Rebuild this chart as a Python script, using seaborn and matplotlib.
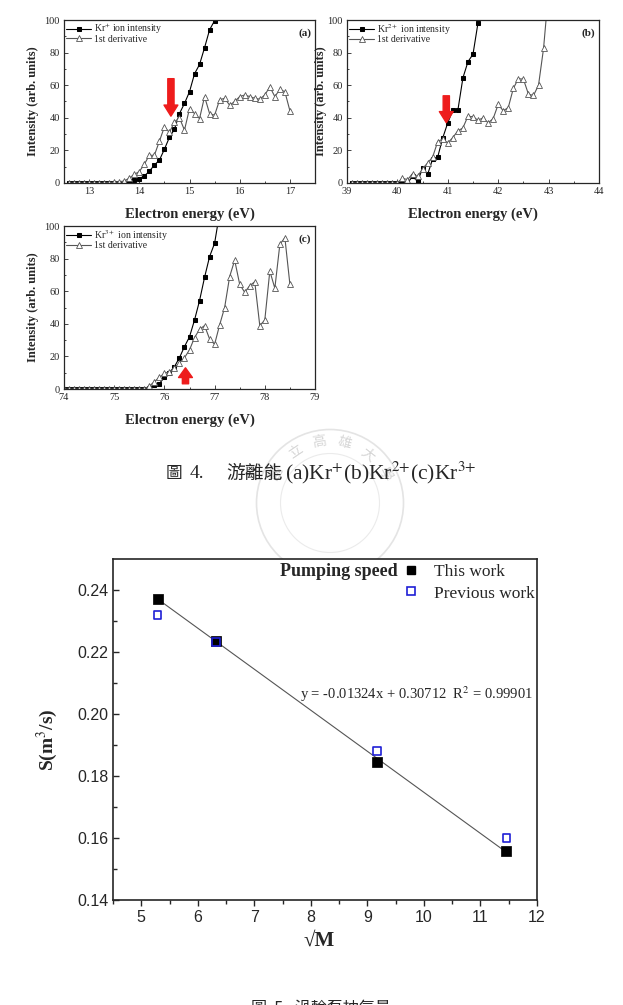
# ================================
# Kr ionization energy + pumping speed figure page
# ================================

import numpy as np
import matplotlib
matplotlib.use("Agg")
import matplotlib.pyplot as plt
from matplotlib.lines import Line2D
from matplotlib.patches import Circle
import seaborn as sns

# --------------------------------
# Data: (a) Kr+ ionization
# --------------------------------
a_ion_x = [12.6, 12.7, 12.8, 12.9, 13.0, 13.1, 13.2, 13.3, 13.4, 13.5, 13.6, 13.7,
           13.8, 13.9, 14.0, 14.1, 14.2, 14.3, 14.4, 14.5, 14.6, 14.7, 14.8, 14.9,
           15.0, 15.1, 15.2, 15.3, 15.4, 15.5, 15.6]
a_ion_y = [0, 0, 0, 0, 0, 0, 0, 0, 0, 0, 0, 0,
           1.0, 1.6, 2.7, 4.3, 7.2, 11, 14, 20.7, 28, 33, 42.6, 48.8,
           56, 67, 72.7, 83, 94, 99.6, 106]
a_der_x = [12.6, 12.7, 12.8, 12.9, 13.0, 13.1, 13.2, 13.3, 13.4, 13.5, 13.6, 13.7,
           13.8, 13.9, 14.0, 14.1, 14.2, 14.3, 14.4, 14.5, 14.6, 14.7, 14.8, 14.9,
           15.0, 15.1, 15.2, 15.3, 15.4, 15.5, 15.6, 15.7, 15.8, 15.9, 16.0, 16.1,
           16.2, 16.3, 16.4, 16.5, 16.6, 16.7, 16.8, 16.9, 17.0]
a_der_y = [0, 0, 0, 0, 0, 0, 0, 0, 0.3, 0.5, 0.8, 1.2,
           3, 5.3, 7, 11.5, 17, 17, 25.6, 34.4, 31, 37.5, 40, 32.4,
           45.7, 42.6, 39.5, 53, 42.6, 41.6, 51, 52, 47.7, 50, 53, 54,
           53, 52, 51.4, 54, 59, 53, 57.4, 56, 44.3]

# --------------------------------
# Data: (b) Kr2+ ionization
# --------------------------------
b_ion_x = [39.1, 39.2, 39.3, 39.4, 39.5, 39.6, 39.7, 39.8, 39.9, 40.0,
           40.1, 40.2, 40.3, 40.4, 40.5, 40.6, 40.7, 40.8, 40.9, 41.0,
           41.1, 41.2, 41.3, 41.4, 41.5, 41.6, 41.7]
b_ion_y = [0, 0, 0, 0, 0, 0, 0, 0, 0, 0,
           0, 0, 4, 1, 9, 5.3, 14.8, 16, 27.7, 37,
           44.7, 44.7, 64.5, 74.4, 79, 98.4, 115]
b_der_x = [39.1, 39.2, 39.3, 39.4, 39.5, 39.6, 39.7, 39.8, 39.9, 40.0,
           40.1, 40.2, 40.3, 40.4, 40.5, 40.6, 40.7, 40.8, 40.9, 41.0,
           41.1, 41.2, 41.3, 41.4, 41.5, 41.6, 41.7, 41.8, 41.9, 42.0,
           42.1, 42.2, 42.3, 42.4, 42.5, 42.6, 42.7, 42.8, 42.9, 43.0]
b_der_y = [0, 0, 0, 0, 0, 0, 0, 0, 0, 0,
           3, 2, 5.7, 4, 8.8, 12.3, 16, 25.4, 27, 24.6,
           27.9, 32, 33.8, 41, 40.6, 38.5, 40, 36.9, 39.5, 48.2,
           44.3, 46.3, 58, 64, 63.7, 54.5, 53.7, 60, 82.6, 118]

# --------------------------------
# Data: (c) Kr3+ ionization
# --------------------------------
c_ion_x = [74.0, 74.1, 74.2, 74.3, 74.4, 74.5, 74.6, 74.7, 74.8, 74.9,
           75.0, 75.1, 75.2, 75.3, 75.4, 75.5, 75.6, 75.7, 75.8, 75.9,
           76.0, 76.1, 76.2, 76.3, 76.4, 76.5, 76.6, 76.7, 76.8, 76.9,
           77.0, 77.1]
c_ion_y = [0, 0, 0, 0, 0, 0, 0, 0, 0, 0,
           0, 0, 0, 0, 0, 0, 0, 0.4, 2.2, 3.3,
           7.2, 10, 13.7, 19.2, 26, 32, 42.3, 54.2, 68.5, 81.2,
           89.4, 108]
c_der_x = [74.0, 74.1, 74.2, 74.3, 74.4, 74.5, 74.6, 74.7, 74.8, 74.9,
           75.0, 75.1, 75.2, 75.3, 75.4, 75.5, 75.6, 75.7, 75.8, 75.9,
           76.0, 76.1, 76.2, 76.3, 76.4, 76.5, 76.6, 76.7, 76.8, 76.9,
           77.0, 77.1, 77.2, 77.3, 77.4, 77.5, 77.6, 77.7, 77.8, 77.9,
           78.0, 78.1, 78.2, 78.3, 78.4, 78.5]
c_der_y = [0, 0, 0, 0, 0, 0, 0, 0, 0, 0,
           0, 0, 0, 0, 0, 0, 0, 1.8, 4.5, 7.2,
           9.6, 10.6, 13, 16, 19.2, 24, 31.5, 36.6, 38.9, 30.7,
           27.4, 39.3, 50, 69, 79, 64.2, 59.3, 63.4, 65.8, 38.9,
           42.3, 72.4, 61.8, 88.8, 92.8, 64.2]

# --------------------------------
# Data: pumping speed vs sqrt(M)
# --------------------------------
sqrt_m = [5.29, 6.32, 9.17, 11.46]
speed_this = [0.2372, 0.2237, 0.1845, 0.1558]
speed_prev = [0.2320, 0.2232, 0.1880, 0.1600]
fit_slope = -0.01324
fit_icept = 0.30712
fit_r2 = 0.99901

# --------------------------------
# Style
# --------------------------------
sns.set_style("ticks")
plt.rcParams["font.family"] = ["Liberation Serif", "Noto Sans CJK TC", "DejaVu Sans"]
plt.rcParams["mathtext.fontset"] = "stix"

W, H = 623, 1005
fig = plt.figure(figsize=(W / 100, H / 100), dpi=100)


def px_box(left, top, right, bottom):
    return [left / W, 1 - bottom / H, (right - left) / W, (bottom - top) / H]


RED = "#ee1c1c"
ARROW = "simple,head_length=0.8,head_width=1.0,tail_width=0.45"
CJK = ["Noto Sans CJK TC", "Liberation Serif"]


def small_panel(box, ion_x, ion_y, der_x, der_y, xlim, xticks, ion_label, tag, ylab_x):
    ax = fig.add_axes(box)
    sns.lineplot(x=ion_x, y=ion_y, ax=ax, estimator=None, sort=False,
                 color="black", lw=0.8, marker="s", markersize=3,
                 markeredgecolor="black", label=ion_label)
    sns.lineplot(x=der_x, y=der_y, ax=ax, estimator=None, sort=False,
                 color="#555555", lw=0.8, marker="^", markersize=4,
                 markerfacecolor="white", markeredgecolor="#555555",
                 markeredgewidth=0.6, label="1st derivative")
    ax.set_xlim(*xlim)
    ax.set_ylim(0, 100)
    ax.set_xticks(xticks)
    ax.set_yticks([0, 20, 40, 60, 80, 100])
    ax.set_xticks([t + 0.5 for t in xticks[:-1]], minor=True)
    ax.set_yticks([10, 30, 50, 70, 90], minor=True)
    ax.tick_params(which="both", direction="in", labelsize=7.5, width=0.6, pad=3)
    ax.tick_params(which="major", length=3)
    ax.tick_params(which="minor", length=1.5)
    for s in ax.spines.values():
        s.set_linewidth(0.9)
    ax.set_xlabel("Electron energy (eV)", fontsize=10.5, fontweight="bold")
    ax.set_ylabel("Intensity (arb. units)", fontsize=9, fontweight="bold")
    ax.xaxis.set_label_coords(0.5, -0.15)
    ax.yaxis.set_label_coords(ylab_x, 0.5)
    ax.legend(loc="upper left", frameon=False, fontsize=7, borderaxespad=0.1,
              borderpad=0.1, labelspacing=-0.15, handlelength=2.6, handletextpad=0.3)
    ax.text(0.985, 0.95, tag, transform=ax.transAxes, ha="right", va="top",
            fontsize=8, fontweight="bold")
    return ax


# faint university seal behind the caption (drawn first so plots cover it)
seal = fig.add_axes(px_box(255, 428, 405, 578))
seal.set_xlim(-1, 1)
seal.set_ylim(-1, 1)
seal.axis("off")
seal.add_patch(Circle((0, 0), 0.98, fill=False, ec="#e4e4e4", lw=1.2))
seal.add_patch(Circle((0, 0), 0.66, fill=False, ec="#ebebeb", lw=0.8))
for ch, ang in zip(["國", "立", "高", "雄", "大", "學"], [150, 124, 100, 76, 52, 28]):
    r = 0.82
    seal.text(r * np.cos(np.radians(ang)), r * np.sin(np.radians(ang)), ch,
              rotation=ang - 90, ha="center", va="center", fontsize=10, color="#d6d6d6")

# ======================================
# Panels (a), (b), (c)
# ======================================
ax_a = small_panel(px_box(64, 20, 315, 183), a_ion_x, a_ion_y, a_der_x, a_der_y,
                   (12.5, 17.5), [13, 14, 15, 16, 17], "Kr$^{+}$ ion intensity", "(a)", -0.1)
ax_a.annotate("", xy=(14.63, 41), xytext=(14.63, 64),
              arrowprops=dict(arrowstyle=ARROW, color=RED, mutation_scale=10,
                              shrinkA=0, shrinkB=0))

ax_b = small_panel(px_box(347, 20, 599, 183), b_ion_x, b_ion_y, b_der_x, b_der_y,
                   (39, 44), [39, 40, 41, 42, 43, 44], "Kr$^{2+}$ ion intensity", "(b)", -0.08)
ax_b.annotate("", xy=(40.97, 37), xytext=(40.97, 53.5),
              arrowprops=dict(arrowstyle=ARROW, color=RED, mutation_scale=10,
                              shrinkA=0, shrinkB=0))

ax_c = small_panel(px_box(64, 226, 315, 389), c_ion_x, c_ion_y, c_der_x, c_der_y,
                   (74, 79), [74, 75, 76, 77, 78, 79], "Kr$^{3+}$ ion intensity", "(c)", -0.1)
ax_c.annotate("", xy=(76.42, 13), xytext=(76.42, 3.2),
              arrowprops=dict(arrowstyle="simple,head_length=0.7,head_width=1.0,tail_width=0.45",
                              color=RED, mutation_scale=10, shrinkA=0, shrinkB=0))

# caption of figure 4, split in pieces so CJK and formula each get their font
cap_y = 1 - 473 / H
fig.text(166 / W, cap_y, "圖", ha="left", va="center", fontsize=12, family=CJK)
fig.text(190 / W, cap_y, "4.", ha="left", va="center", fontsize=14)
fig.text(283 / W, cap_y, "游離能", ha="right", va="center", fontsize=13.5, family=CJK)
fig.text(285 / W, cap_y, "(a)Kr$^{+}$(b)Kr$^{2{+}}$(c)Kr$^{3{+}}$",
         ha="left", va="center", fontsize=15.5)

# ======================================
# Pumping speed plot
# ======================================
ax = fig.add_axes(px_box(113, 559, 537, 900))
sns.scatterplot(x=sqrt_m, y=speed_this, ax=ax, marker="s", s=42, color="black",
                edgecolor="black", zorder=3)
sns.scatterplot(x=sqrt_m, y=speed_prev, ax=ax, marker="s", s=30, facecolor="none",
                edgecolor="#1f1fd6", linewidth=1.2, zorder=3)
fit_x = np.array([sqrt_m[0], sqrt_m[-1]])
ax.plot(fit_x, fit_slope * fit_x + fit_icept, color="#555555", lw=0.8, zorder=2)

ax.set_xlim(4.5, 12)
ax.set_ylim(0.14, 0.25)
ax.set_xticks([5, 6, 7, 8, 9, 10, 11, 12])
ax.set_xticks([4.5, 5.5, 6.5, 7.5, 8.5, 9.5, 10.5, 11.5], minor=True)
ax.set_yticks([0.14, 0.16, 0.18, 0.20, 0.22, 0.24])
ax.set_yticks([0.15, 0.17, 0.19, 0.21, 0.23], minor=True)
ax.set_yticklabels(["0.14", "0.16", "0.18", "0.20", "0.22", "0.24"])
ax.tick_params(axis="x", which="both", direction="out", width=1)
ax.tick_params(axis="y", which="both", direction="in", width=1)
ax.tick_params(which="major", length=4)
ax.tick_params(which="minor", length=3)
for lab in ax.get_xticklabels() + ax.get_yticklabels():
    lab.set_family("Liberation Sans")
    lab.set_fontsize(11.5)
for s in ax.spines.values():
    s.set_linewidth(1.2)

ax.set_xlabel("√M", fontsize=15, fontweight="bold", family=["Liberation Serif", "DejaVu Serif"])
ax.set_ylabel("S(m$^{3}$/s)", fontsize=14, fontweight="bold")
ax.xaxis.set_label_coords(0.487, -0.09)
ax.yaxis.set_label_coords(-0.125, 0.47)

ax.text((300 - 113) / 424, 1 - (694 - 559) / 341,
        "y = -0.01324x + 0.30712  R$^{2}$ = " + f"{fit_r2:.5f}",
        transform=ax.transAxes, ha="left", va="center", fontsize=10.5)

ax.text((398 - 113) / 424, 1 - (571 - 559) / 341, "Pumping speed",
        transform=ax.transAxes, ha="right", va="center", fontsize=13, fontweight="bold")
handles = [
    Line2D([], [], ls="none", marker="s", markersize=6, color="black"),
    Line2D([], [], ls="none", marker="s", markersize=5.5, markerfacecolor="none",
           markeredgecolor="#1f1fd6", markeredgewidth=1.2),
]
ax.legend(handles, ["This work", "Previous work"], loc="upper left",
          bbox_to_anchor=((404 - 113) / 424, 1 - (564 - 559) / 341),
          frameon=False, fontsize=12.5, borderpad=0, borderaxespad=0,
          handlelength=0.8, handletextpad=0.9, labelspacing=0.3)

# next caption, cut off by the page edge like in the scanned page
fig.text(321 / W, 1 - 1000 / H, "圖  5.  渦輪泵抽氣量", ha="center", va="top", fontsize=11.5,
         family=CJK)

fig.savefig("out.png", dpi=100)
